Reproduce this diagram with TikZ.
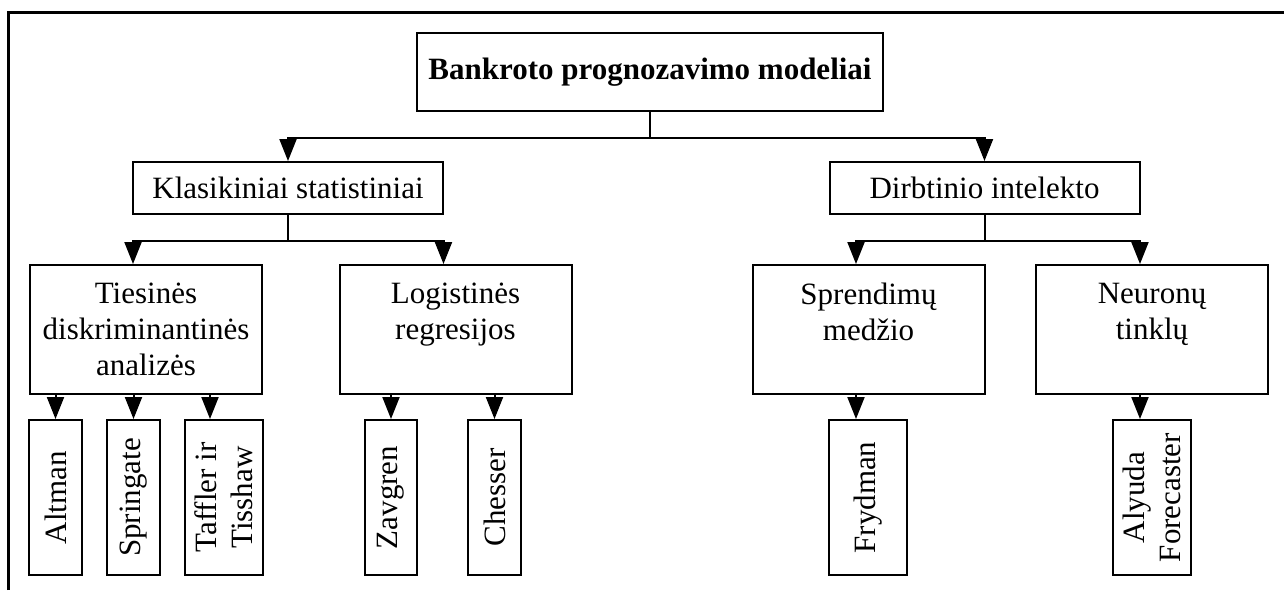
\documentclass[tikz,border=0pt]{standalone}
\usepackage{fontspec}
\setmainfont{Liberation Serif}
\usetikzlibrary{arrows.meta}

\begin{document}
\begin{tikzpicture}[x=1pt,y=-1pt,line width=2pt,
        font=\fontsize{31}{36}\selectfont,
        box/.style={draw,align=center,inner sep=0pt},
        group/.style={box,minimum width=310pt,minimum height=52pt},
        method/.style={box,minimum width=232pt,minimum height=129pt},
        leaf/.style={box,rotate=90,minimum width=155pt,minimum height=53pt},
        arr/.style={-{Triangle[length=22pt,width=17pt]}}]

    \useasboundingbox (0,0) rectangle (1284,590);
    \draw[line width=3pt] (8,590) -- (8,12) -- (1284,12);

    % levels
    \node[box,minimum width=466pt,minimum height=78pt] (root) at (650,72) {\textbf{Bankroto prognozavimo modeliai}};
    \node[group] (klas) at (288,188) {Klasikiniai statistiniai};
    \node[group] (dirb) at (984.5,188) {Dirbtinio intelekto};

    \node[method] (tda) at (146,329.5) {Tiesinės\\diskriminantinės\\analizės};
    \node[method] (logit) at (455.5,329.5) {Logistinės\\regresijos\\~};
    \node[method] (tree) at (868.5,329.5) {Sprendimų\\medžio\\~};
    \node[method] (nn) at (1152,329.5) {Neuronų\\tinklų\\~};

    % leaves
    \node[leaf] (altman) at (55.5,497.5) {Altman};
    \node[leaf] (springate) at (133.5,497.5) {Springate};
    \node[leaf,minimum height=78pt] (taffler) at (224,497.5) {Taffler ir\\Tisshaw};
    \node[leaf,minimum height=52pt] (zavgren) at (391,497.5) {Zavgren};
    \node[leaf] (chesser) at (494.5,497.5) {Chesser};
    \node[leaf,minimum height=78pt] (frydman) at (868,497.5) {Frydman};
    \node[leaf,minimum height=78pt] (alyuda) at (1152,497.5) {Alyuda\\Forecaster};

    % connectors
    \draw[arr] (root.south) -- ++(0,26) -| (klas.north);
    \draw[arr] (root.south) -- ++(0,26) -| (dirb.north);
    \draw[arr] (klas.south) -- ++(0,26) -| ([xshift=-13pt]tda.north);
    \draw[arr] (klas.south) -- ++(0,26) -| ([xshift=-12pt]logit.north);
    \draw[arr] (dirb.south) -- ++(0,26) -| ([xshift=-12.5pt]tree.north);
    \draw[arr] (dirb.south) -- ++(0,26) -| ([xshift=-12pt]nn.north);

    \draw[arr] (altman.east |- tda.south) -- (altman.east);
    \draw[arr] (springate.east |- tda.south) -- (springate.east);
    \draw[arr] ([xshift=-14pt]taffler.east |- tda.south) -- ([xshift=-14pt]taffler.east);
    \draw[arr] (zavgren.east |- logit.south) -- (zavgren.east);
    \draw[arr] (chesser.east |- logit.south) -- (chesser.east);
    \draw[arr] ([xshift=-12pt]frydman.east |- tree.south) -- ([xshift=-12pt]frydman.east);
    \draw[arr] ([xshift=-12pt]alyuda.east |- nn.south) -- ([xshift=-12pt]alyuda.east);
\end{tikzpicture}
\end{document}
